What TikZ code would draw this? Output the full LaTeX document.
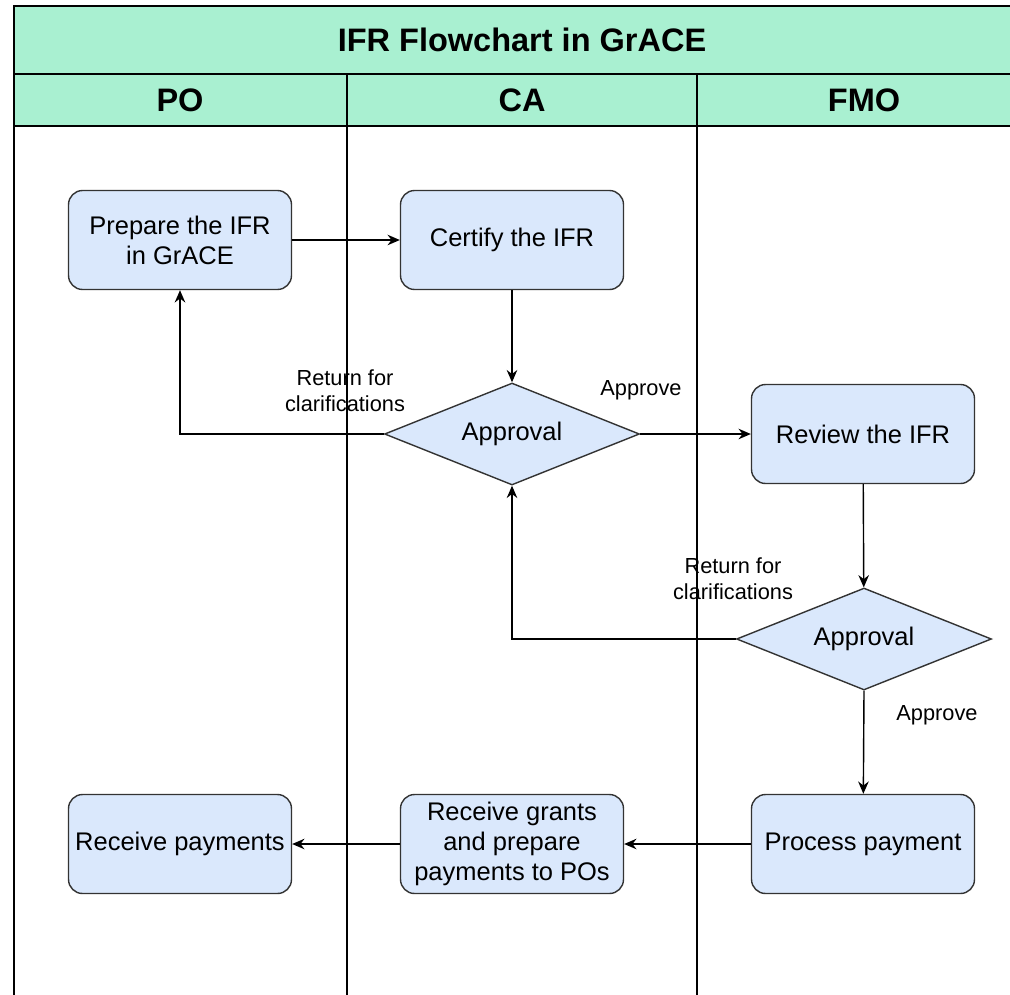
\documentclass[tikz,border=0pt]{standalone}
\usepackage{fontspec}
\setmainfont{Liberation Sans}
\usepackage{tikz}
\usetikzlibrary{positioning,shapes.geometric,arrows.meta}
\definecolor{headgreen}{HTML}{A9F0D1}
\definecolor{boxblue}{HTML}{DAE8FC}
\definecolor{edgegray}{HTML}{333333}

\begin{document}
\begin{tikzpicture}[x=0.02cm, y=-0.02cm, >={Stealth[length=7pt, width=6pt]},
    proc/.style={draw=edgegray, thick, rectangle, rounded corners=0.28cm, fill=boxblue,
        minimum width=4.46cm, minimum height=1.98cm, align=center, inner sep=1pt,
        font=\fontsize{14.5}{17}\selectfont},
    decide/.style={draw=edgegray, thick, diamond, aspect=2.5, fill=boxblue, minimum width=5.1cm,
        minimum height=2.04cm, inner sep=0pt, font=\fontsize{14.5}{17}\selectfont},
    lbl/.style={align=center, font=\fontsize{12.4}{14.7}\selectfont},
    head/.style={font=\bfseries\fontsize{18.5}{22}\selectfont},
    flow/.style={->, thick}]
    \useasboundingbox (0,0) rectangle (1010,994);
    \fill[white] (0,0) rectangle (1010,994);

    % swimlane frame
    \draw[line width=1.2pt, fill=headgreen] (14,6) rectangle (1020,74);
    \draw[line width=1.2pt, fill=headgreen] (14,74) rectangle (1020,126);
    \draw[line width=1.2pt] (14,6) -- (14,1000);
    \draw[thick] (347,74) -- (347,1000);
    \draw[thick] (697,74) -- (697,1000);
    \node[head] (title) at (522,40) {IFR Flowchart in GrACE};
    \node[head] (lanePO) at (180,100) {PO};
    \node[head] (laneCA) at (522,100) {CA};
    \node[head] (laneFMO) at (864,100) {FMO};

    % steps
    \node[proc] (prep) at (180,240) {Prepare the IFR\\in GrACE};
    \node[proc] (cert) at (512,240) {Certify the IFR};
    \node[decide] (appr1) at (512,434) {Approval};
    \node[proc] (review) at (863,434) {Review the IFR};
    \node[decide] (appr2) at (864,639) {Approval};
    \node[proc] (process) at (863,844) {Process payment};
    \node[proc] (grants) at (512,844) {Receive grants\\and prepare\\payments to POs};
    \node[proc] (paid) at (180,844) {Receive payments};

    % labels
    \node[lbl] (ret1) at (345,391) {Return for\\clarifications};
    \node[lbl] (ok1) at (641,390) {Approve};
    \node[lbl] (ret2) at (733,579) {Return for\\clarifications};
    \node[lbl] (ok2) at (937,715) {Approve};

    % connectors
    \draw[flow] (prep) -- (cert);
    \draw[flow] (cert) -- (appr1);
    \draw[flow] (appr1.west) -| (prep.south);
    \draw[flow] (appr1.east) -- (review);
    \draw[flow] (review) -- (appr2);
    \draw[flow] (appr2.west) -| (appr1.south);
    \draw[flow] (appr2.south) -- (process);
    \draw[flow] (process) -- (grants);
    \draw[flow] (grants) -- (paid);
\end{tikzpicture}
\end{document}
